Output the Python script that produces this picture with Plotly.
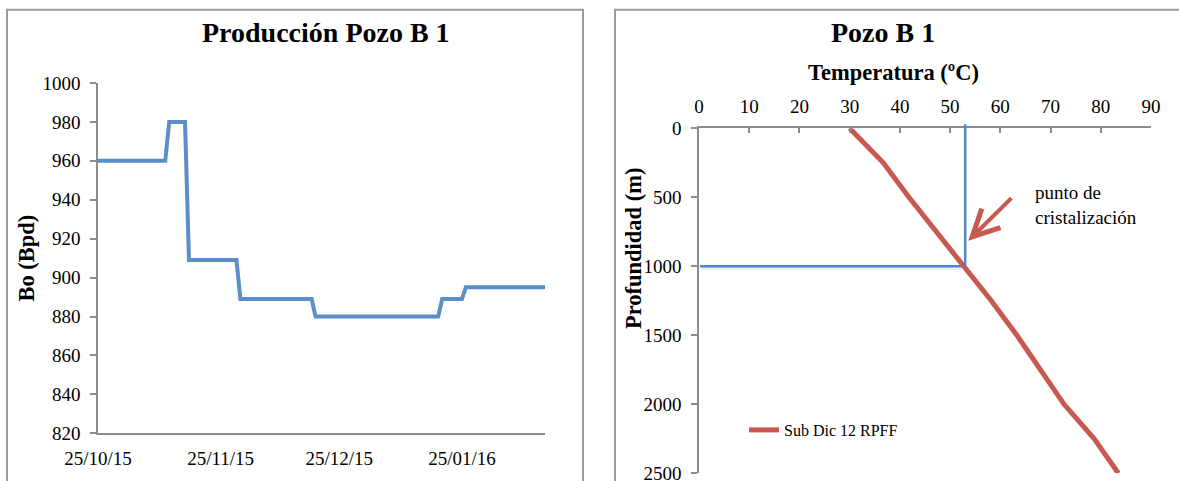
import plotly.graph_objects as go

# ---------------- data ----------------
prod_dates = ['2015-10-25', '2015-11-11', '2015-11-12', '2015-11-16', '2015-11-17',
              '2015-11-29', '2015-11-30', '2015-12-18', '2015-12-19', '2016-01-19',
              '2016-01-20', '2016-01-25', '2016-01-26', '2016-02-15']
prod_bo = [960, 960, 980, 980, 909, 909, 889, 889, 880, 880, 889, 889, 895, 895]
date_ticks = ['2015-10-25', '2015-11-25', '2015-12-25', '2016-01-25']

depth_m = [0, 250, 500, 750, 1000, 1250, 1500, 1750, 2000, 2250, 2500]
temp_c = [30, 36.7, 41.8, 47.3, 52.8, 58.2, 63.3, 68.0, 72.7, 78.7, 83.5]
series_name = 'Sub Dic 12 RPFF'

cryst_temp = 53
cryst_depth = 1000

FONT = 'Liberation Serif'
W, H = 1179, 481
BLUE = '#5B8FC9'
RED = '#C9584F'
AX = '#8C8C8C'
BORDER = '#9C9C9C'

# domains (paper)
xd1 = [98 / W, 545 / W]
yd1 = [1 - 433.3 / H, 1 - 83 / H]
xd2 = [699 / W, 1151 / W]
yd2 = [1 - 473.3 / H, 1 - 128.3 / H]

fig = go.Figure()
fig.add_trace(go.Scatter(x=prod_dates, y=prod_bo, mode='lines', xaxis='x', yaxis='y',
                         line=dict(color=BLUE, width=4), showlegend=False,
                         hoverinfo='x+y'))
fig.add_trace(go.Scatter(x=temp_c, y=depth_m, mode='lines', xaxis='x2', yaxis='y2',
                         name=series_name, line=dict(color=RED, width=5),
                         showlegend=True))

tickfont = dict(family=FONT, size=19, color='black')

def ypaper2(d):
    return yd2[0] + (1 - d / 2500) * (yd2[1] - yd2[0])

shapes = [
    # chart borders
    dict(type='rect', xref='paper', yref='paper', x0=7 / W, x1=583 / W, y0=-0.1, y1=1 - 9.7 / H,
         line=dict(color=BORDER, width=2), fillcolor='rgba(0,0,0,0)', layer='above'),
    dict(type='rect', xref='paper', yref='paper', x0=615 / W, x1=1.2, y0=-0.1, y1=1 - 9.7 / H,
         line=dict(color=BORDER, width=2), fillcolor='rgba(0,0,0,0)', layer='above'),
    # soft shadow of reference line
    dict(type='line', xref='x2', yref='y2', x0=0.5, x1=cryst_temp + 0.4, y0=cryst_depth + 15, y1=cryst_depth + 15,
         line=dict(color='rgba(0,0,0,0.07)', width=3), layer='below'),
    # crystallisation reference lines
    dict(type='line', xref='x2', yref='y2', x0=0.2, x1=cryst_temp, y0=cryst_depth, y1=cryst_depth,
         line=dict(color='#4F86C6', width=2.5), layer='below'),
    dict(type='line', xref='x2', yref='paper', x0=cryst_temp, x1=cryst_temp,
         y0=ypaper2(cryst_depth), y1=yd2[1] + 4 / H,
         line=dict(color='#4F86C6', width=2.5), layer='above'),
]

annotations = [
    dict(text='<b>Producción Pozo B 1</b>', xref='paper', yref='paper', x=326 / W, y=1 - 32 / H,
         showarrow=False, xanchor='center', yanchor='middle',
         font=dict(family=FONT, size=28, color='black')),
    dict(text='<b>Pozo B 1</b>', xref='paper', yref='paper', x=883 / W, y=1 - 32 / H,
         showarrow=False, xanchor='center', yanchor='middle',
         font=dict(family=FONT, size=28, color='black')),
    dict(text='<b>Temperatura (ºC)</b>', xref='paper', yref='paper', x=893 / W, y=1 - 73 / H,
         showarrow=False, xanchor='center', yanchor='middle',
         font=dict(family=FONT, size=22.5, color='black')),
    dict(text='<b>Profundidad (m)</b>', xref='paper', yref='paper', x=633 / W, y=1 - 248 / H,
         showarrow=False, xanchor='center', yanchor='middle', textangle=-90,
         font=dict(family=FONT, size=22.5, color='black')),
    dict(text='punto de<br>cristalización', xref='x2', yref='y2', x=66.5, y=555,
         showarrow=False, xanchor='left', yanchor='middle', align='left',
         font=dict(family=FONT, size=19, color='black')),
    dict(text='', xref='x2', yref='y2', x=53.6, y=815, axref='x2', ayref='y2', ax=62.5, ay=495,
         showarrow=True, arrowhead=5, arrowwidth=4, arrowsize=1.3, arrowcolor=RED),
]

fig.update_layout(
    template='none',
    width=W, height=H, margin=dict(l=0, r=0, t=0, b=0, autoexpand=False),
    paper_bgcolor='white', plot_bgcolor='white',
    font=dict(family=FONT, size=19, color='black'),
    xaxis=dict(domain=xd1, anchor='y', type='date', range=['2015-10-25', '2016-02-15'],
               tickvals=date_ticks, tickformat='%d/%m/%y', showgrid=False, zeroline=False,
               showline=True, linecolor=AX, linewidth=1.5, ticks='', tickfont=tickfont,
               ticklabelstandoff=7, automargin=False, ticklabeloverflow='allow'),
    yaxis=dict(domain=yd1, anchor='x', range=[820, 1000], dtick=20, showgrid=False, zeroline=False,
               showline=True, linecolor=AX, linewidth=1.5, ticks='outside', ticklen=6,
               tickcolor=AX, tickwidth=1.5, tickfont=tickfont, ticklabelstandoff=6,
               automargin=False,
               title=dict(text='<b>Bo (Bpd)</b>', font=dict(family=FONT, size=22.5), standoff=2)),
    xaxis2=dict(domain=xd2, anchor='y2', side='top', range=[0, 90], dtick=10, showgrid=False,
                zeroline=False, showline=True, linecolor=AX, linewidth=1.5, ticks='inside',
                ticklen=5, tickcolor=AX, tickwidth=1.5, tickfont=tickfont, ticklabelstandoff=6,
                automargin=False, ticklabeloverflow='allow'),
    yaxis2=dict(domain=yd2, anchor='x2', range=[2500, 0], dtick=500, showgrid=False,
                zeroline=False, showline=True, linecolor=AX, linewidth=1.5, ticks='outside',
                ticklen=6, tickcolor=AX, tickwidth=1.5, tickfont=tickfont, ticklabelstandoff=6,
                automargin=False, ticklabeloverflow='allow'),
    showlegend=True,
    legend=dict(x=744 / W, y=1 - 430 / H, xanchor='left', yanchor='middle',
                bgcolor='rgba(0,0,0,0)', borderwidth=0,
                font=dict(family=FONT, size=16, color='black')),
    shapes=shapes, annotations=annotations,
)

fig.write_html('out.html', config={'displayModeBar': False},
               post_script="document.body.style.margin='0';document.body.style.padding='0';")
